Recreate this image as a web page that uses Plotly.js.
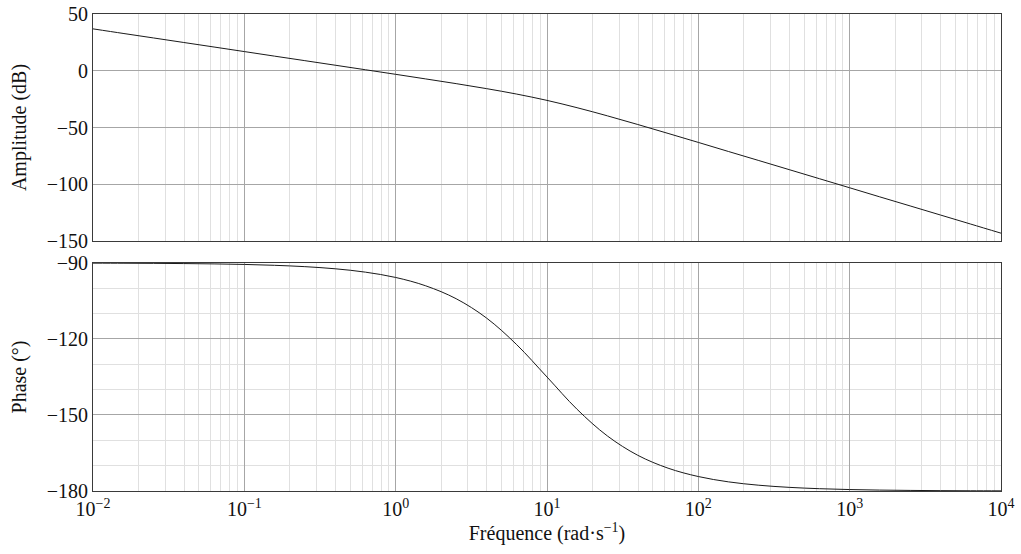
<!DOCTYPE html>
<html>
<head>
<meta charset="utf-8">
<script src="https://cdn.plot.ly/plotly-3.0.1.min.js"></script>
<style>html,body{margin:0;padding:0;background:#fff;}#chart{width:1021px;height:554px;}</style>
</head>
<body>
<div id="chart"></div>
<script>
// Frequencies (rad/s), read on a 0.2-decade step
const frequency = [0.01, 0.0158, 0.0251, 0.0398, 0.0631, 0.1, 0.158, 0.251, 0.398, 0.631,
  1, 1.58, 2.51, 3.98, 6.31, 10, 15.8, 25.1, 39.8, 63.1,
  100, 158, 251, 398, 631, 1000, 1580, 2510, 3980, 6310, 10000];
// Amplitude (dB)
const amplitude = [36.9, 32.9, 28.9, 24.9, 20.9, 16.9, 12.9, 8.9, 4.9, 0.89,
  -3.14, -7.21, -11.36, -15.74, -20.55, -26.11, -32.55, -39.74, -47.36, -55.21,
  -63.14, -71.12, -79.11, -87.1, -95.1, -103.1, -111.1, -119.1, -127.1, -135.1, -143.1];
// Phase (degrees)
const phase = [-90.06, -90.09, -90.14, -90.23, -90.36, -90.57, -90.91, -91.44, -92.28, -93.61,
  -95.71, -99.01, -104.1, -111.7, -122.25, -135, -147.75, -158.3, -165.9, -170.99,
  -174.29, -176.39, -177.72, -178.56, -179.09, -179.43, -179.64, -179.77, -179.86, -179.91, -179.94];

// Tick labels
const xTickVals = [0.01, 0.1, 1, 10, 100, 1000, 10000];
const xTickText = ['10<sup>−2</sup>', '10<sup>−1</sup>', '10<sup>0</sup>', '10<sup>1</sup>',
  '10<sup>2</sup>', '10<sup>3</sup>', '10<sup>4</sup>'];
const ampTickVals = [50, 0, -50, -100, -150];
const phaseTickVals = [-90, -120, -150, -180];

const yTitleAmp = 'Amplitude (dB)';
const yTitlePhase = 'Phase (°)';
const xTitle = 'Fréquence (rad·s<sup>−1</sup>)';

const FONT = 'Liberation Serif, Times New Roman, serif';
const FS = 20;
const MAJ = '#a6a6a6', MIN = '#e0e0e0', FRAME = '#3a3a3a';

const traces = [
  {x: frequency, y: amplitude, xaxis: 'x', yaxis: 'y', type: 'scatter', mode: 'lines',
   line: {color: '#1a1a1a', width: 1, shape: 'spline'}, hoverinfo: 'skip'},
  {x: frequency, y: phase, xaxis: 'x2', yaxis: 'y2', type: 'scatter', mode: 'lines',
   line: {color: '#1a1a1a', width: 1, shape: 'spline'}, hoverinfo: 'skip'}
];

const xbase = {
  type: 'log', range: [-2, 4], tickmode: 'array', tickvals: xTickVals, ticktext: xTickText,
  showgrid: true, gridcolor: MAJ, gridwidth: 1,
  minor: {showgrid: true, gridcolor: MIN, gridwidth: 1, dtick: 'D1', ticks: ''},
  showline: true, linecolor: FRAME, linewidth: 1, mirror: true, ticks: '', zeroline: false,
  tickfont: {family: FONT, size: FS, color: '#111'}
};

const layout = {
  width: 1021, height: 554,
  margin: {l: 93, r: 20, t: 14, b: 63},
  paper_bgcolor: '#fff', plot_bgcolor: '#fff',
  showlegend: false,
  font: {family: FONT, size: FS, color: '#111'},
  xaxis: Object.assign({}, xbase, {anchor: 'y', showticklabels: false, matches: 'x2'}),
  xaxis2: Object.assign({}, xbase, {anchor: 'y2',
    title: {text: xTitle, font: {family: FONT, size: FS, color: '#111'}, standoff: 4}}),
  yaxis: {domain: [0.5241, 1], range: [-150, 50], tickmode: 'array', tickvals: ampTickVals, anchor: 'x',
    showgrid: true, gridcolor: MAJ, zeroline: false,
    showline: true, linecolor: FRAME, linewidth: 1, mirror: true, ticks: '',
    tickfont: {family: FONT, size: FS, color: '#111'},
    title: {text: yTitleAmp, font: {family: FONT, size: FS, color: '#111'}, standoff: 14}},
  yaxis2: {domain: [0, 0.478], range: [-180, -90], tickmode: 'array', tickvals: phaseTickVals, anchor: 'x2',
    showgrid: true, gridcolor: MAJ, zeroline: false,
    minor: {showgrid: true, gridcolor: MIN, dtick: 10, ticks: ''},
    showline: true, linecolor: FRAME, linewidth: 1, mirror: true, ticks: '',
    tickfont: {family: FONT, size: FS, color: '#111'},
    title: {text: yTitlePhase, font: {family: FONT, size: FS, color: '#111'}, standoff: 14}}
};

Plotly.newPlot('chart', traces, layout, {staticPlot: true, displayModeBar: false});
</script>
</body>
</html>
